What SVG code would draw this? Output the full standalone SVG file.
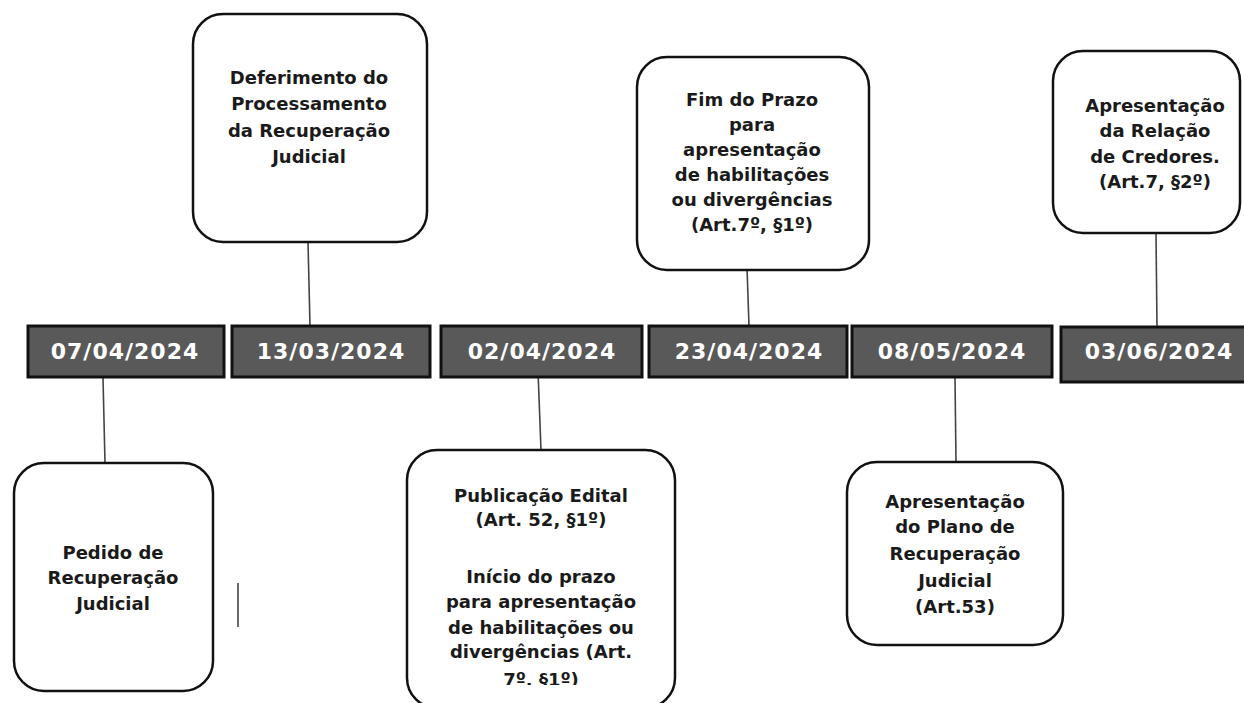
<svg xmlns="http://www.w3.org/2000/svg" width="1244" height="703" viewBox="0 0 1244 703">
<style>
.date rect{fill:#595959;stroke:#111;stroke-width:3}
.date text{fill:#fff;font-family:"DejaVu Sans",Verdana,sans-serif;font-weight:bold;font-size:22px;letter-spacing:1px;text-anchor:middle}
.node rect{fill:#fff;stroke:#111;stroke-width:2.5}
.node text{fill:#1a1a1a;font-family:"DejaVu Sans",Verdana,sans-serif;font-weight:bold;font-size:18px;text-anchor:middle}
.conn line{stroke:#444;stroke-width:1.6}
</style>
<defs>
<clipPath id="clipPub"><rect x="400" y="440" width="290" height="245"/></clipPath>
</defs>
<rect width="1244" height="703" fill="#fff"/>

<g id="connectors" class="conn">
<line x1="308" y1="242" x2="310" y2="326"/>
<line x1="746" y1="238" x2="749" y2="326"/>
<line x1="1156" y1="233" x2="1157" y2="327"/>
<line x1="103" y1="378" x2="105" y2="463"/>
<line x1="538" y1="371" x2="541" y2="450"/>
<line x1="955" y1="378" x2="956" y2="462"/>
<line x1="238" y1="583" x2="238" y2="627"/>
</g>

<g id="date1" class="date"><rect x="28" y="326" width="196" height="51"/><text x="125" y="359">07/04/2024</text></g>
<g id="date2" class="date"><rect x="232" y="326" width="198" height="51"/><text x="331" y="359">13/03/2024</text></g>
<g id="date3" class="date"><rect x="441" y="326" width="201" height="51"/><text x="542" y="359">02/04/2024</text></g>
<g id="date4" class="date"><rect x="649" y="326" width="198" height="51"/><text x="749" y="359">23/04/2024</text></g>
<g id="date5" class="date"><rect x="852" y="326" width="200" height="51"/><text x="952" y="359">08/05/2024</text></g>
<g id="date6" class="date"><rect x="1061" y="327" width="190" height="55"/><text x="1159" y="359">03/06/2024</text></g>

<g id="deferimento" class="node">
<rect x="193" y="14" width="234" height="228" rx="30"/>
<text x="309" y="84">Deferimento do</text>
<text x="309" y="110">Processamento</text>
<text x="309" y="137">da Recuperação</text>
<text x="309" y="163">Judicial</text>
</g>

<g id="fimprazo" class="node">
<rect x="637" y="57" width="232" height="213" rx="30"/>
<text x="752" y="106">Fim do Prazo</text>
<text x="752" y="131">para</text>
<text x="752" y="156">apresentação</text>
<text x="752" y="181">de habilitações</text>
<text x="752" y="206">ou divergências</text>
<text x="752" y="231">(Art.7º, §1º)</text>
</g>

<g id="relacao" class="node">
<rect x="1053" y="51" width="187" height="182" rx="30"/>
<text x="1155" y="112">Apresentação</text>
<text x="1155" y="137">da Relação</text>
<text x="1155" y="163">de Credores.</text>
<text x="1155" y="188">(Art.7, §2º)</text>
</g>

<g id="pedido" class="node">
<rect x="14" y="463" width="199" height="228" rx="30"/>
<text x="113" y="559">Pedido de</text>
<text x="113" y="584">Recuperação</text>
<text x="113" y="610">Judicial</text>
</g>

<g id="publicacao" class="node">
<rect x="407" y="450" width="268" height="258" rx="30"/>
<g clip-path="url(#clipPub)">
<text x="541" y="502">Publicação Edital</text>
<text x="541" y="526">(Art. 52, §1º)</text>
<text x="541" y="583">Início do prazo</text>
<text x="541" y="608">para apresentação</text>
<text x="541" y="634">de habilitações ou</text>
<text x="541" y="658">divergências (Art.</text>
<text x="541" y="686">7º, §1º)</text>
</g>
</g>

<g id="plano" class="node">
<rect x="847" y="462" width="216" height="183" rx="30"/>
<text x="955" y="508">Apresentação</text>
<text x="955" y="533">do Plano de</text>
<text x="955" y="560">Recuperação</text>
<text x="955" y="587">Judicial</text>
<text x="955" y="613">(Art.53)</text>
</g>
</svg>
